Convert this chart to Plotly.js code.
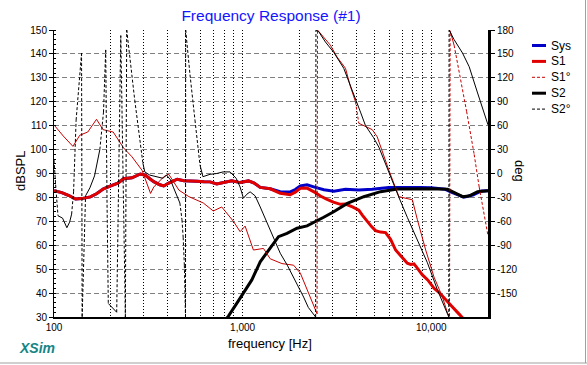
<!DOCTYPE html>
<html>
<head>
<meta charset="utf-8">
<script src="https://cdn.plot.ly/plotly-3.0.1.min.js"></script>
<style>html,body{margin:0;padding:0;background:#fff;}#chart{width:587px;height:365px;}</style>
</head>
<body>
<div id="chart"></div>
<script>
// ---------- data ----------
const sysFreq = [100,110,120,130,140,156,168,183,203,218,234,259,287,306,322,338,364,382,406,450,489,530,573,624,672,729,797,876,970,1074,1152,1240,1401,1583,1789,1902,2023,2196,2430,2700,3050,3510,4130,4867,5964,7300,8770,10000,10600,11880,12950,14900,16630,18450,20000];
const sysDb   = [82.8,82.0,80.8,79.3,79.5,80.2,81.5,83.6,85.0,86.0,87.8,88.2,89.8,89.2,87.8,86.6,85.3,84.8,86.0,87.6,87.0,87.0,86.8,86.6,86.5,85.6,86.3,87.0,86.2,86.9,86.0,84.2,83.6,82.4,82.3,83.3,84.8,85.3,84.2,83.2,82.6,83.4,83.1,83.4,84.1,84.2,84.1,84.0,83.9,83.4,82.0,80.1,81.0,82.7,82.8];

const s1Freq = [100,110,120,130,140,156,168,183,203,218,234,259,287,306,322,338,364,382,406,450,489,530,573,624,672,729,797,876,970,1074,1152,1240,1401,1583,1789,1902,2023,2196,2430,2584,2805,3029,3301,3510,3823,4130,4321,4577,4826,5068,5386,5728,6088,6474,6967,7470,7780,8100,8477,8980,9580,10350,11090,11940,12850,14060,15000];
const s1Db   = [82.8,82.0,80.8,79.3,79.5,80.2,81.5,83.6,85.0,86.0,87.8,88.2,89.8,89.2,87.8,86.6,85.3,84.8,86.0,87.6,87.0,87.0,86.8,86.6,86.5,85.6,86.3,87.0,86.2,86.9,86.0,84.2,83.6,81.7,81.1,82.2,83.8,83.9,82.0,80.6,79.2,78.0,77.1,77.2,76.0,74.7,72.5,69.9,67.8,66.1,65.5,65.3,62.5,58.0,55.0,52.5,52.0,52.2,50.2,47.6,45.5,42.0,40.0,37.1,34.5,31.2,28.8];

const s1PhFreq = [100,112,126,137,151,168,182,206,234,259,293,325,338,382,406,460,519,619,699,775,894,970,1031,1141,1290,1401,1616,1863,2023,2286,2482,2495,2920,3170,3510,3730,3967,4130,4483,4867,5173,5500,5964,6742,7943,8446,9348,10350,11470,12200,12500,12600,13220,15400,16890,17960,20000];
const s1PhDeg  = [61,47,34,48,52,68,55,52,32,21,4,-25,-17,-4,-1,-21,-29,-37,-47,-42,-60,-73,-66,-96,-94,-107,-113,-115,-125,-157,-176,180,161,146,132,109,90,63,59,55,46,27,4,-29,-33,-58,-96,-130,-155,-175,-179,179,161,78,24,-17,-78];

const s2Freq = [807,841,931,1010,1119,1240,1372,1550,1719,1943,2196,2381,2691,3041,3590,4391,5386,6609,8073,10000,12200,13500,14660,15830,17610,20000];
const s2Db   = [28.5,30.4,35.7,40.2,45.5,53.1,58.0,63.6,65.0,67.1,68.1,69.4,71.7,74.0,77.5,80.3,82.4,83.5,83.6,83.6,83.4,81.5,80.3,80.6,82.4,82.8];

const s2PhFreq = [100,102,105,111,117,121,124,127,131,140,141,147,155,164,175,183,188,191,194,215,226,239,243,268,296,303,322,350,378,395,415,429,448,465,477,484,491,498,499,526,559,594,616,672,729,788,858,924,970,1010,1053,1096,1165,1240,1345,1453,1583,1725,1863,1973,2106,2230,2343,2439,2448,2530,2748,3041,3437,3730,3967,4217,4483,4945,5278,5964,6742,7470,8446,9546,10790,12200,12390,12440,13220,14660,15890,17610,19090,20000];
const s2PhDeg  = [17,-14,-53,-56,-68,-61,-51,-23,67,151,-180,-28,-18,-3,30,77,155,-33,-163,-174,173,-180,180,92,13,2,-2,-4,-6,-2,-8,-17,-27,-37,-58,-80,-115,-180,180,124,67,11,-4,-1,0,2,2,-6,-17,-31,-26,-23,-28,-42,-62,-81,-100,-115,-130,-142,-155,-168,-175,-180,180,178,165,152,132,111,95,77,60,45,33,1,-30,-55,-84,-112,-146,-175,-180,180,168,151,134,101,76,61];

const seriesNames = ['Sys', 'S1', 'S1°', 'S2', 'S2°'];

const xTickVals = [100,200,300,400,500,600,700,800,900,1000,2000,3000,4000,5000,6000,7000,8000,9000,10000];
const xTickText = ['100','','','','','','','','','1,000','','','','','','','','','10,000'];
const yTickVals = [30,40,50,60,70,80,90,100,110,120,130,140,150];
const y2TickVals = [-150,-120,-90,-60,-30,0,30,60,90,120,150,180];
const y2TickText = ['-150','-120','-90','-60','-30','0','30','60','90','120','150','180'];

// ---------- layout constants ----------
const W = 587, H = 365, M = {l:54, r:99, t:30, b:48};
const plotW = W - M.l - M.r, plotH = H - M.t - M.b;
const xMin = 2, xMax = Math.log10(20000);
const px = v => (v - M.l) / plotW;          // pixel -> paper x
const py = v => (H - M.b - v) / plotH;      // pixel -> paper y

// split a phase curve: gentle parts solid, steep jumps dashed (as XSim draws them)
function splitPhase(f, d) {
  const pxDec = plotW / (xMax - xMin), pxDeg = plotH / 360;
  const solid = {x:[f[0]], y:[d[0]]}, dash = {x:[], y:[]};
  for (let i = 1; i < f.length; i++) {
    const dx = Math.max(1e-6, (Math.log10(f[i]) - Math.log10(f[i-1])) * pxDec);
    const dy = Math.abs(d[i] - d[i-1]) * pxDeg;
    if (dy / dx > 5) {
      solid.x.push(null, f[i]); solid.y.push(null, d[i]);
      dash.x.push(f[i-1], f[i], null); dash.y.push(d[i-1], d[i], null);
    } else {
      solid.x.push(f[i]); solid.y.push(d[i]);
    }
  }
  return {solid, dash};
}

const p1 = splitPhase(s1PhFreq, s1PhDeg);
const p2 = splitPhase(s2PhFreq, s2PhDeg);

const RED = '#e00000', RED_T = '#c80000', BLUE = '#0000c8';
const DASH = '3px,2px';
const styles = [
  {color: BLUE, width: 3, dash: 'solid'},
  {color: RED, width: 3, dash: 'solid'},
  {color: RED_T, width: 1, dash: DASH},
  {color: '#000', width: 3, dash: 'solid'},
  {color: '#000', width: 1, dash: DASH}
];

const traces = [
  {x: sysFreq, y: sysDb, name: seriesNames[0], mode: 'lines', line: {color: BLUE, width: 3}},
  {x: s1Freq, y: s1Db, name: seriesNames[1], mode: 'lines', line: {color: RED, width: 3}},
  {x: p1.solid.x, y: p1.solid.y, yaxis: 'y2', mode: 'lines', line: {color: RED_T, width: 1}},
  {x: p1.dash.x, y: p1.dash.y, yaxis: 'y2', name: seriesNames[2], mode: 'lines', line: {color: RED_T, width: 1, dash: DASH}},
  {x: s2Freq, y: s2Db, name: seriesNames[3], mode: 'lines', line: {color: '#000', width: 3}},
  {x: p2.solid.x, y: p2.solid.y, yaxis: 'y2', mode: 'lines', line: {color: '#000', width: 1}},
  {x: p2.dash.x, y: p2.dash.y, yaxis: 'y2', name: seriesNames[4], mode: 'lines', line: {color: '#000', width: 1, dash: DASH}}
];

const FONT = 'Liberation Sans, Arial, sans-serif';

// compact legend (XSim style) built from the series names and styles
const legendShapes = [], legendAnn = [];
seriesNames.forEach((n, i) => {
  const yy = 45.5 + i * 15.9;
  legendShapes.push({type: 'line', xref: 'paper', yref: 'paper', x0: px(532), x1: px(546), y0: py(yy), y1: py(yy),
                     line: styles[i]});
  legendAnn.push({text: n, xref: 'paper', yref: 'paper', x: px(549), y: py(yy), showarrow: false,
                  xanchor: 'left', yanchor: 'middle', font: {family: FONT, size: 12, color: '#000'}});
});

const layout = {
  width: W, height: H,
  margin: M,
  paper_bgcolor: '#fff', plot_bgcolor: '#fff',
  font: {family: FONT, size: 10, color: '#000'},
  title: {text: 'Frequency Response (#1)', font: {family: FONT, size: 15.5, color: '#1414ff'},
          x: 0.5, xref: 'paper', xanchor: 'center', y: 1 - 16 / H, yref: 'container', yanchor: 'middle'},
  showlegend: false,
  xaxis: {type: 'log', range: [xMin, xMax], tickvals: xTickVals, ticktext: xTickText, ticks: '',
          showgrid: true, gridcolor: '#000', griddash: '1px,2px', gridwidth: 1,
          showline: true, linecolor: '#000', linewidth: 2, zeroline: false,
          tickfont: {family: FONT, size: 10, color: '#000'}},
  yaxis: {range: [30, 150], tickvals: yTickVals, ticks: 'outside', ticklen: 4, tickcolor: '#000',
          showgrid: true, gridcolor: '#808080', griddash: '5px,3px', gridwidth: 1,
          showline: true, linecolor: '#000', linewidth: 1, zeroline: false,
          tickfont: {family: FONT, size: 10, color: '#000'},
          minor: {dtick: 2, ticks: 'inside', ticklen: 2, tickcolor: '#000', showgrid: false}},
  yaxis2: {range: [-180, 180], overlaying: 'y', side: 'right', tickvals: y2TickVals, ticktext: y2TickText,
           ticks: 'outside', ticklen: 4, tickcolor: '#000', showgrid: false,
           showline: true, linecolor: '#000', linewidth: 3, zeroline: false,
           tickfont: {family: FONT, size: 10, color: '#000'}},
  annotations: [
    {text: 'frequency [Hz]', xref: 'paper', yref: 'paper', x: px(270), y: py(343), showarrow: false,
     xanchor: 'center', yanchor: 'middle', font: {family: FONT, size: 13, color: '#000'}},
    {text: 'dBSPL', xref: 'paper', yref: 'paper', x: px(20), y: py(171), showarrow: false, textangle: -90,
     xanchor: 'center', yanchor: 'middle', font: {family: FONT, size: 13, color: '#000'}},
    {text: 'deg', xref: 'paper', yref: 'paper', x: px(520), y: py(171), showarrow: false, textangle: 90,
     xanchor: 'center', yanchor: 'middle', font: {family: FONT, size: 13, color: '#000'}},
    {text: '<b><i>XSim</i></b>', xref: 'paper', yref: 'paper', x: px(37), y: py(348), showarrow: false,
     xanchor: 'center', yanchor: 'middle', font: {family: FONT, size: 14, color: '#168585'}}
  ].concat(legendAnn),
  shapes: [
    {type: 'line', xref: 'paper', yref: 'paper', x0: px(0), x1: px(587), y0: py(363), y1: py(363),
     line: {color: '#a0a0a0', width: 1}},
    {type: 'line', xref: 'paper', yref: 'paper', x0: px(585.5), x1: px(585.5), y0: py(0), y1: py(363),
     line: {color: '#a0a0a0', width: 1}}
  ].concat(legendShapes)
};

Plotly.newPlot('chart', traces, layout, {staticPlot: true, displayModeBar: false});
</script>
</body>
</html>
